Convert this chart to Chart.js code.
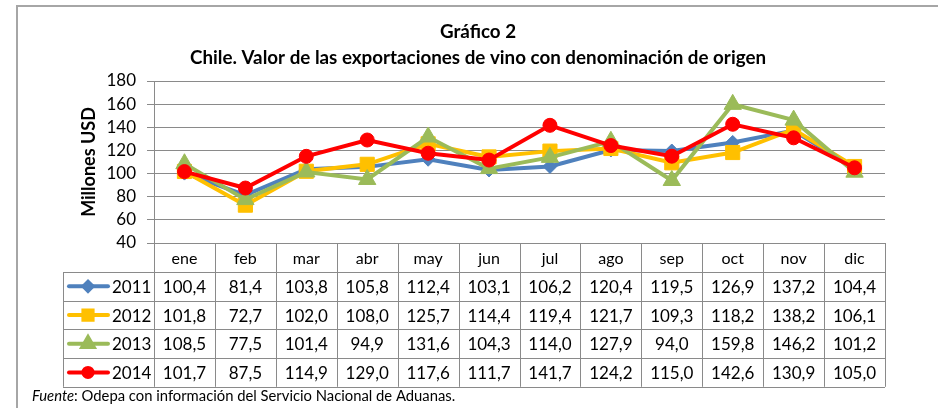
<!DOCTYPE html>
<html>
<head>
<meta charset="utf-8">
<script src="https://cdn.jsdelivr.net/npm/chart.js@4"></script>
<style>
  body { margin: 0; background: #fff; }
</style>
</head>
<body>
<canvas id="grafico" width="938" height="408"></canvas>
<script>
const meses = ["ene", "feb", "mar", "abr", "may", "jun", "jul", "ago", "sep", "oct", "nov", "dic"];
const anios = ["2011", "2012", "2013", "2014"];
const v2011 = [100.4, 81.4, 103.8, 105.8, 112.4, 103.1, 106.2, 120.4, 119.5, 126.9, 137.2, 104.4];
const v2012 = [101.8, 72.7, 102.0, 108.0, 125.7, 114.4, 119.4, 121.7, 109.3, 118.2, 138.2, 106.1];
const v2013 = [108.5, 77.5, 101.4, 94.9, 131.6, 104.3, 114.0, 127.9, 94.0, 159.8, 146.2, 101.2];
const v2014 = [101.7, 87.5, 114.9, 129.0, 117.6, 111.7, 141.7, 124.2, 115.0, 142.6, 130.9, 105.0];

const fuente = "Lato, 'Open Sans', sans-serif";
const gris = "#8a8a8a";

function serie(label, data, color, estilo, radio, orden) {
  return {
    label: label,
    data: data,
    borderColor: color,
    backgroundColor: color,
    borderWidth: 4,
    pointStyle: estilo,
    pointRadius: radio,
    pointHoverRadius: radio,
    pointBorderWidth: 1,
    tension: 0,
    order: orden
  };
}

const series = [
  serie(anios[0], v2011, "#4f81bd", "rectRot", 7, 3),
  serie(anios[1], v2012, "#ffc000", "rect", 10, 2),
  serie(anios[2], v2013, "#9bbb59", "triangle", 10, 1),
  serie(anios[3], v2014, "#ff0000", "circle", 7, 0)
];

const coma = n => n.toFixed(1).replace(".", ",");

const tablaDatos = {
  id: "tablaDatos",
  beforeDraw(chart) {
    const ctx = chart.ctx;
    ctx.save();
    ctx.fillStyle = "#fff";
    ctx.fillRect(0, 0, chart.width, chart.height);
    ctx.strokeStyle = "#a6a6a6";
    ctx.lineWidth = 2;
    ctx.strokeRect(17, 6, 1000, 600);
    ctx.restore();
  },
  afterDraw(chart) {
    const ctx = chart.ctx;
    const area = chart.chartArea;
    const x = chart.scales.x;
    const ancho = (area.right - area.left) / meses.length;
    const altoCab = 29;
    const altoFila = 28.7;
    const izqLeyenda = 63;
    const top = area.bottom;
    ctx.save();

    // titulos
    ctx.fillStyle = "#000";
    ctx.textAlign = "center";
    ctx.textBaseline = "middle";
    ctx.font = "bold 18.8px " + fuente;
    ctx.fillText("Gráfico 2", 478, 32);
    ctx.fillText("Chile. Valor de las exportaciones de vino con denominación de origen", 478, 58);

    ctx.save();
    ctx.translate(89, (area.top + area.bottom) / 2);
    ctx.rotate(-Math.PI / 2);
    ctx.font = "bold 18px " + fuente;
    ctx.fillText("Millones USD", 0, 0);
    ctx.restore();

    // lineas de la tabla
    ctx.strokeStyle = gris;
    ctx.lineWidth = 1;
    ctx.beginPath();
    const fondo = top + altoCab + altoFila * anios.length;
    for (let i = 0; i <= meses.length; i++) {
      const xi = Math.round(area.left + i * ancho) + 0.5;
      ctx.moveTo(xi, top);
      ctx.lineTo(xi, fondo);
    }
    ctx.moveTo(izqLeyenda + 0.5, top + altoCab);
    ctx.lineTo(izqLeyenda + 0.5, fondo);
    for (let r = 0; r <= anios.length; r++) {
      const yr = Math.round(top + altoCab + r * altoFila) + 0.5;
      ctx.moveTo(izqLeyenda, yr);
      ctx.lineTo(area.right, yr);
    }
    ctx.stroke();

    // meses
    ctx.font = "16px " + fuente;
    meses.forEach((m, i) => {
      ctx.fillText(m, x.getPixelForValue(i), top + altoCab / 2 + 1);
    });

    // filas
    series.forEach((s, r) => {
      const yc = top + altoCab + r * altoFila + altoFila / 2 + 1;
      ctx.strokeStyle = s.borderColor;
      ctx.lineWidth = 4;
      ctx.lineCap = "round";
      ctx.beginPath();
      ctx.moveTo(69, yc - 1);
      ctx.lineTo(108, yc - 1);
      ctx.stroke();
      Chart.helpers.drawPoint(ctx, {
        pointStyle: s.pointStyle,
        radius: s.pointRadius * 0.65,
        rotation: 0,
        borderWidth: 1
      }, 88, yc - 1);
      ctx.fillStyle = s.borderColor;
      ctx.fill();
      ctx.fillStyle = "#000";
      ctx.font = "17px " + fuente;
      ctx.textAlign = "left";
      ctx.fillText(s.label, 112, yc);
      ctx.textAlign = "center";
      s.data.forEach((v, i) => {
        ctx.fillText(coma(v), x.getPixelForValue(i), yc);
      });
    });

    // fuente
    ctx.textAlign = "left";
    ctx.font = "italic 14.8px " + fuente;
    ctx.fillText("Fuente", 32, 396);
    const w = ctx.measureText("Fuente").width;
    ctx.font = "14.8px " + fuente;
    ctx.fillText(": Odepa con información del Servicio Nacional de Aduanas.", 32 + w, 396);
    ctx.restore();
  }
};

new Chart(document.getElementById("grafico"), {
  type: "line",
  data: { labels: meses, datasets: series },
  options: {
    responsive: false,
    animation: false,
    layout: { padding: { left: 20, top: 81, right: 53, bottom: 165 } },
    plugins: {
      legend: { display: false },
      title: { display: false },
      tooltip: { enabled: false }
    },
    scales: {
      x: { type: "category", offset: true, display: false },
      y: {
        min: 40,
        max: 180,
        afterFit(scale) { scale.width = 134; },
        ticks: {
          stepSize: 20,
          autoSkip: false,
          color: "#000",
          padding: 11,
          font: { family: fuente, size: 17 }
        },
        grid: { color: gris, lineWidth: 1, tickLength: 7, tickColor: gris },
        border: { color: gris }
      }
    }
  },
  plugins: [tablaDatos]
});
</script>
</body>
</html>
